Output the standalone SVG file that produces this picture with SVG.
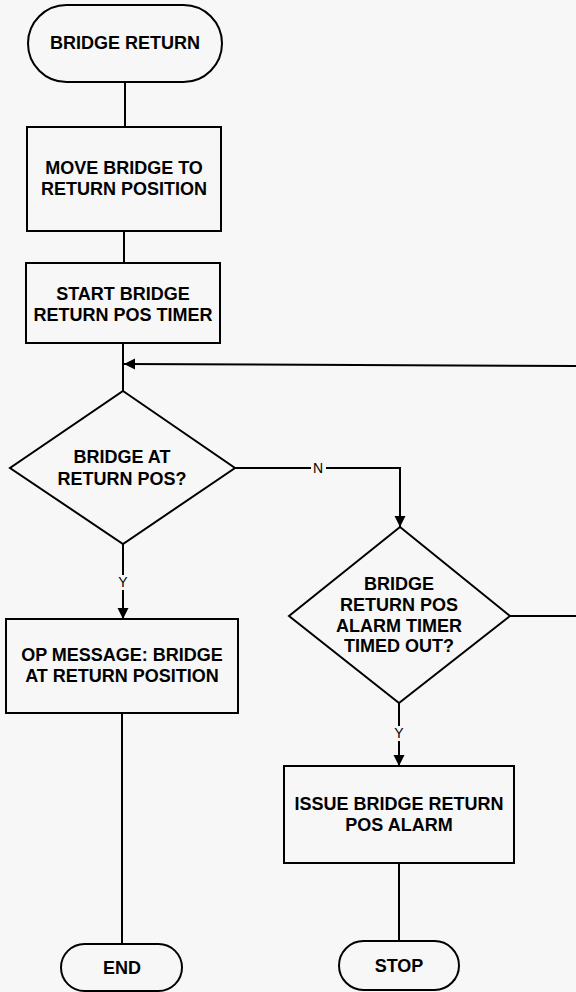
<svg xmlns="http://www.w3.org/2000/svg" width="576" height="992" viewBox="0 0 576 992">
  <style>
    .shape { fill: #f7f7f7; stroke: #000; stroke-width: 2; }
    .wire { fill: none; stroke: #000; stroke-width: 2; }
    .t { font-family: "Liberation Sans", Arial, sans-serif; font-weight: bold; font-size: 18px; fill: #000; text-anchor: middle; }
    .lbl { font-family: "Liberation Sans", Arial, sans-serif; font-size: 14px; fill: #000; text-anchor: middle; }
  </style>
  <defs>
    <marker id="arrow" markerWidth="12" markerHeight="12" refX="11" refY="5.5" orient="auto" markerUnits="userSpaceOnUse">
      <path d="M0,0 L11,5.5 L0,11 Z" fill="#000"/>
    </marker>
  </defs>

  <rect x="0" y="0" width="576" height="992" fill="#f7f7f7"/>

  <!-- connectors -->
  <g id="connectors">
    <line class="wire" x1="125" y1="82" x2="125" y2="127"/>
    <line class="wire" x1="124" y1="231" x2="124" y2="263"/>
    <line class="wire" x1="123" y1="343" x2="123" y2="391"/>
    <!-- loop back from the alarm-timer check -->
    <line class="wire" x1="576" y1="366" x2="124" y2="364" marker-end="url(#arrow)"/>
    <!-- N branch -->
    <line class="wire" x1="235" y1="468" x2="311" y2="468"/>
    <polyline class="wire" points="326,468 400,468 400,527" marker-end="url(#arrow)"/>
    <text class="lbl" x="318" y="473">N</text>
    <!-- Y branch of position check -->
    <line class="wire" x1="123" y1="544" x2="123" y2="575"/>
    <line class="wire" x1="123" y1="590" x2="123" y2="619" marker-end="url(#arrow)"/>
    <text class="lbl" x="123" y="587">Y</text>
    <!-- N branch of timer check (continues off to the right) -->
    <line class="wire" x1="510" y1="616" x2="576" y2="616"/>
    <!-- Y branch of timer check -->
    <line class="wire" x1="399" y1="703" x2="399" y2="726"/>
    <line class="wire" x1="399" y1="741" x2="399" y2="766" marker-end="url(#arrow)"/>
    <text class="lbl" x="399" y="738">Y</text>
    <line class="wire" x1="122" y1="713" x2="122" y2="944"/>
    <line class="wire" x1="399" y1="863" x2="399" y2="941"/>
  </g>

  <g id="start">
    <rect class="shape" x="28" y="5" width="194" height="77" rx="38.5" ry="38.5"/>
    <text class="t" x="125" y="49">BRIDGE RETURN</text>
  </g>

  <g id="move-bridge">
    <rect class="shape" x="27" y="127" width="194" height="104"/>
    <text class="t" x="124" y="174">MOVE BRIDGE TO</text>
    <text class="t" x="124" y="195">RETURN POSITION</text>
  </g>

  <g id="start-timer">
    <rect class="shape" x="26" y="263" width="194" height="80"/>
    <text class="t" x="123" y="300">START BRIDGE</text>
    <text class="t" x="123" y="321">RETURN POS TIMER</text>
  </g>

  <g id="at-return-pos">
    <polygon class="shape" points="123,391 235,468 123,544 10,468"/>
    <text class="t" x="122" y="463">BRIDGE AT</text>
    <text class="t" x="122" y="485">RETURN POS?</text>
  </g>

  <g id="timer-timed-out">
    <polygon class="shape" points="400,527 510,616 399,703 289,616"/>
    <text class="t" x="399" y="590">BRIDGE</text>
    <text class="t" x="399" y="611">RETURN POS</text>
    <text class="t" x="399" y="632">ALARM TIMER</text>
    <text class="t" x="399" y="652">TIMED OUT?</text>
  </g>

  <g id="op-message">
    <rect class="shape" x="6" y="619" width="232" height="94"/>
    <text class="t" x="122" y="661">OP MESSAGE: BRIDGE</text>
    <text class="t" x="122" y="682">AT RETURN POSITION</text>
  </g>

  <g id="issue-alarm">
    <rect class="shape" x="284" y="766" width="230" height="97"/>
    <text class="t" x="399" y="810">ISSUE BRIDGE RETURN</text>
    <text class="t" x="399" y="831">POS ALARM</text>
  </g>

  <g id="end">
    <rect class="shape" x="61" y="944" width="121" height="47" rx="23.5" ry="23.5"/>
    <text class="t" x="122" y="974">END</text>
  </g>

  <g id="stop">
    <rect class="shape" x="339" y="941" width="120" height="49" rx="24.5" ry="24.5"/>
    <text class="t" x="399" y="972">STOP</text>
  </g>
</svg>
